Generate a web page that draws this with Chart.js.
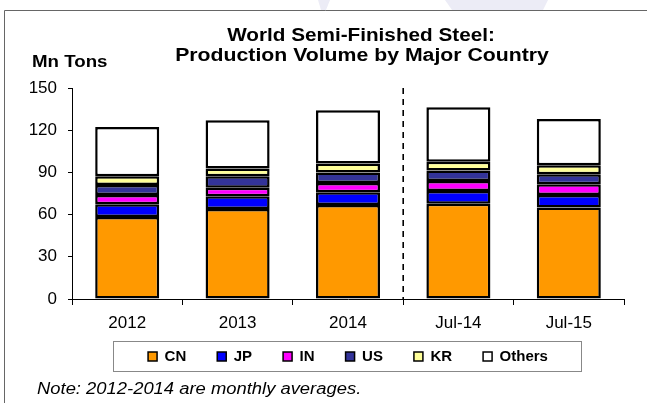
<!DOCTYPE html>
<html>
<head>
<meta charset="utf-8">
<script src="https://cdn.jsdelivr.net/npm/chart.js@4.4.1/dist/chart.umd.min.js"></script>
<style>
  html, body { margin: 0; padding: 0; background: #fff; }
  #wrap { width: 647px; height: 403px; }
</style>
</head>
<body>
<div id="wrap"><canvas id="canvas" width="647" height="403"></canvas></div>
<script>
// categories and values (Mn tons)
const categories = ['2012', '2013', '2014', 'Jul-14', 'Jul-15'];
const cnValues = [58.3, 64.0, 66.8, 67.8, 65.0];
const jpValues = [9.0, 9.0, 9.0, 9.0, 8.9];
const inValues = [6.6, 6.1, 6.6, 7.0, 7.6];
const usValues = [7.1, 8.1, 7.6, 7.6, 7.1];
const krValues = [6.2, 5.6, 6.4, 6.1, 6.4];
const othersValues = [35.1, 34.3, 37.8, 38.8, 33.0];
const yTicks = [0, 30, 60, 90, 120, 150];

const FONT = '"Liberation Sans", Arial, sans-serif';
const LEGEND_PAD = 31;

function mkSeries(label, data, color) {
  return {
    label: label,
    data: data,
    backgroundColor: color,
    borderColor: '#000',
    borderWidth: 2.5,
    borderSkipped: false,
    barPercentage: 0.58,
    categoryPercentage: 1.0
  };
}

// text drawn a bit wider than the font, like the original
function wideText(ctx, txt, x, y, font, sx, align) {
  ctx.save();
  ctx.font = font;
  ctx.textBaseline = 'middle';
  ctx.textAlign = 'left';
  const w = ctx.measureText(txt).width * sx;
  let x0 = x;
  if (align === 'center') x0 = x - w / 2;
  ctx.translate(x0, y);
  ctx.scale(sx, 1);
  ctx.fillText(txt, 0, 0);
  ctx.restore();
}

// frame, titles, note, legend box, dashed divider
const decor = {
  id: 'decor',
  afterLayout(chart) {
    // pull the legend row up closer to the axis labels
    const lg = chart.legend;
    lg.top -= 23;
    lg.bottom -= 23;
  },
  beforeDraw(chart) {
    const ctx = chart.ctx;
    ctx.save();
    // faint watermark pieces above the frame
    ctx.fillStyle = '#ECECF6';
    ctx.beginPath();
    ctx.moveTo(318, 0); ctx.lineTo(330, 0); ctx.lineTo(326, 10); ctx.lineTo(321, 10);
    ctx.closePath(); ctx.fill();
    ctx.beginPath();
    ctx.moveTo(445, 0); ctx.lineTo(548, 0); ctx.lineTo(543, 10); ctx.lineTo(452, 10);
    ctx.closePath(); ctx.fill();

    ctx.strokeStyle = '#666';
    ctx.lineWidth = 1;
    ctx.beginPath();
    ctx.moveTo(4.5, 403);
    ctx.lineTo(4.5, 10.5);
    ctx.lineTo(647, 10.5);
    ctx.stroke();
    ctx.restore();
  },
  afterDraw(chart) {
    const ctx = chart.ctx;
    const x = chart.scales.x, y = chart.scales.y;
    ctx.save();
    ctx.fillStyle = '#000';
    wideText(ctx, 'World Semi-Finished Steel:', 361, 36, 'bold 18px ' + FONT, 1.15, 'center');
    wideText(ctx, 'Production Volume by Major Country', 362, 56, 'bold 18px ' + FONT, 1.18, 'center');
    wideText(ctx, 'Mn Tons', 32, 62, 'bold 17px ' + FONT, 1.1, 'left');
    wideText(ctx, 'Note: 2012-2014 are monthly averages.', 37, 390, 'italic 16px ' + FONT, 1.15, 'left');

    // dashed line between yearly averages and monthly figures
    const xd = (x.getPixelForValue(2) + x.getPixelForValue(3)) / 2;
    ctx.strokeStyle = '#000';
    ctx.lineWidth = 1.6;
    ctx.setLineDash([6, 5]);
    ctx.beginPath();
    ctx.moveTo(xd, y.getPixelForValue(150));
    ctx.lineTo(xd, y.getPixelForValue(0));
    ctx.stroke();
    ctx.setLineDash([]);

    // legend frame
    const lg = chart.legend;
    const hb = lg.legendHitBoxes;
    if (hb && hb.length) {
      const last = hb[hb.length - 1];
      const itemTop = lg.top + LEGEND_PAD;
      const l = hb[0].left - 35;
      const r = last.left + last.width + 33;
      const t = itemTop - 8;
      const b = itemTop + 15 + 7;
      ctx.strokeStyle = '#888';
      ctx.lineWidth = 1;
      ctx.strokeRect(Math.round(l) + 0.5, Math.round(t) + 0.5, Math.round(r - l), Math.round(b - t));
    }
    ctx.restore();
  }
};

const chart1 = new Chart(document.getElementById('canvas'), {
  type: 'bar',
  data: {
    labels: categories,
    datasets: [
      mkSeries('CN', cnValues, '#FF9900'),
      mkSeries('JP', jpValues, '#0000FF'),
      mkSeries('IN', inValues, '#FF00FF'),
      mkSeries('US', usValues, '#333399'),
      mkSeries('KR', krValues, '#FFFF99'),
      mkSeries('Others', othersValues, '#FFFFFF')
    ]
  },
  options: {
    responsive: false,
    animation: false,
    layout: { padding: { left: 0, right: 23, top: 88, bottom: 6 } },
    plugins: {
      title: { display: false },
      tooltip: { enabled: false },
      legend: {
        position: 'bottom',
        fullSize: false,
        labels: {
          boxWidth: 9,
          boxHeight: 9,
          padding: LEGEND_PAD,
          color: '#000',
          font: { family: FONT, size: 15, weight: 'bold' },
          generateLabels(chart) {
            const items = Chart.defaults.plugins.legend.labels.generateLabels(chart);
            items.forEach(it => { it.lineWidth = 1.5; it.strokeStyle = '#000'; });
            return items;
          }
        }
      }
    },
    scales: {
      x: {
        stacked: true,
        offset: true,
        grid: { display: true, offset: true, drawOnChartArea: false, color: '#000', tickLength: 6 },
        border: { display: true, color: '#000', width: 1 },
        ticks: { color: '#000', padding: 8, font: { family: FONT, size: 17 } },
        afterFit(s) { s.height = 42; }
      },
      y: {
        stacked: true,
        min: 0,
        max: 150,
        afterBuildTicks(s) { s.ticks = yTicks.map(v => ({ value: v })); },
        grid: { display: true, drawOnChartArea: false, color: '#000', tickLength: 4 },
        border: { display: true, color: '#000', width: 1 },
        ticks: { color: '#000', padding: 11, font: { family: FONT, size: 17 } },
        afterFit(s) { s.width = 72; }
      }
    }
  },
  plugins: [decor]
});
</script>
</body>
</html>
